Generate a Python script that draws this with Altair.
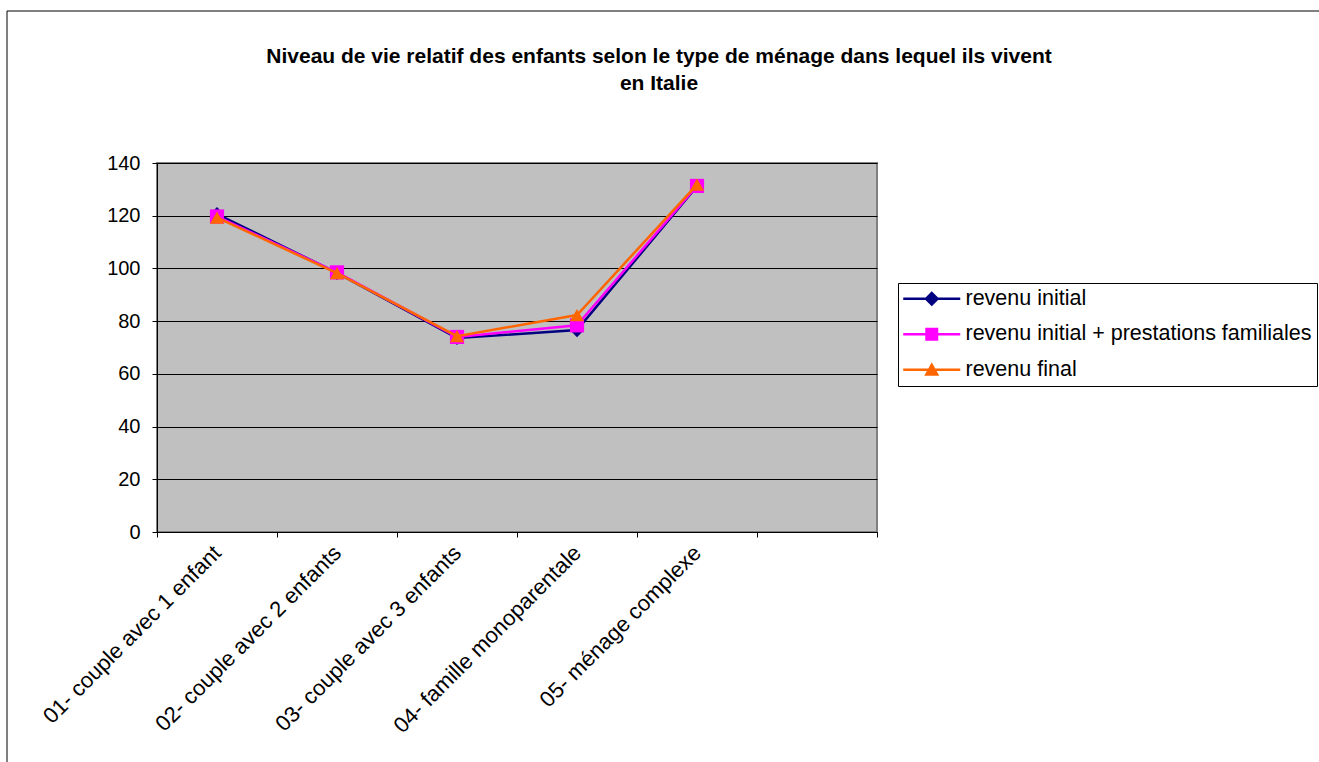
import altair as alt
import pandas as pd

# Household types (x categories); the last slot of the axis is left empty
categories = [
    "01- couple avec 1 enfant",
    "02- couple avec 2 enfants",
    "03- couple avec 3 enfants",
    "04- famille monoparentale",
    "05- ménage complexe",
]
x_domain = categories + [" "]

series_names = [
    "revenu initial",
    "revenu initial + prestations familiales",
    "revenu final",
]
revenu_initial = [120.6, 98.3, 73.6, 76.6, 131.2]
revenu_prestations = [119.7, 98.5, 74.0, 78.4, 131.3]
revenu_final = [119.3, 98.2, 74.3, 82.3, 131.8]

series_colors = ["#000080", "#FF00FF", "#FF6600"]
series_shapes = ["diamond", "square", "triangle-up"]

y_ticks = [0, 20, 40, 60, 80, 100, 120, 140]

rows = []
for name, values in zip(series_names, [revenu_initial, revenu_prestations, revenu_final]):
    for cat, v in zip(categories, values):
        rows.append({"type": cat, "serie": name, "valeur": v})
df = pd.DataFrame(rows)

# Legend glyphs: a short line with the series marker on it (unit-box SVG paths)
legend_paths = [
    "M-2.85,-0.12H2.85V0.12H-2.85Z M0,-0.75L0.75,0L0,0.75L-0.75,0Z",
    "M-2.85,-0.12H2.85V0.12H-2.85Z M-0.65,-0.65H0.65V0.65H-0.65Z",
    "M-2.85,-0.12H2.85V0.12H-2.85Z M0,-0.75L0.75,0.6H-0.75Z",
]

FONT = "Liberation Sans"

x = alt.X(
    "type:N",
    sort=x_domain,
    scale=alt.Scale(domain=x_domain, paddingInner=0, paddingOuter=0),
    axis=alt.Axis(
        title=None,
        labelAngle=-45,
        labelAlign="right",
        labelBaseline="middle",
        labelFontSize=22,
        labelFont=FONT,
        labelColor="black",
        labelPadding=12,
        tickBand="extent",
        tickSize=5,
        tickColor="black",
        domainColor="black",
        grid=False,
        labelLimit=1000,
    ),
)

y = alt.Y(
    "valeur:Q",
    scale=alt.Scale(domain=[0, 140], nice=False),
    axis=alt.Axis(
        title=None,
        values=y_ticks,
        labelFontSize=20,
        labelFont=FONT,
        labelColor="black",
        labelPadding=12,
        tickSize=5,
        tickColor="black",
        domainColor="black",
        grid=True,
        gridColor="black",
        gridWidth=1,
        gridOpacity=1,
    ),
)

base = alt.Chart(df)

# one line + marker layer per series, drawn in series order
series_layers = []
for name, col, shp in zip(series_names, series_colors, series_shapes):
    sub = base.transform_filter(alt.datum.serie == name)
    series_layers.append(sub.mark_line(strokeWidth=2.5, color=col).encode(x=x, y=y))
    series_layers.append(
        sub.mark_point(filled=True, size=200, opacity=1, strokeWidth=0, color=col, shape=shp).encode(x=x, y=y)
    )

# legend: built from the series scales, no marks of its own
legend = alt.Legend(
    title=None,
    orient="none",
    legendX=741,
    legendY=120,
    strokeColor="black",
    fillColor="white",
    padding=5,
    symbolSize=400,
    symbolOffset=18,
    labelOffset=23,
    labelFontSize=21.5,
    labelFont=FONT,
    labelColor="black",
    labelLimit=1000,
    rowPadding=12.5,
    symbolStrokeWidth=0,
    symbolOpacity=1,
)
legend_layer = base.transform_filter("false").mark_point(filled=True, opacity=1).encode(
    color=alt.Color(
        "serie:N",
        scale=alt.Scale(domain=series_names, range=series_colors),
        legend=legend,
    ),
    shape=alt.Shape(
        "serie:N",
        scale=alt.Scale(domain=series_names, range=legend_paths),
        legend=legend,
    ),
)

# outer frame around the whole chart
frame = alt.Chart(alt.Data(values=[{}])).mark_rect(
    fill="transparent", stroke="black", strokeWidth=1
).encode(
    x=alt.value(-150),
    x2=alt.value(1180),
    y=alt.value(-152),
    y2=alt.value(620),
)

chart = (
    alt.layer(frame, *series_layers, legend_layer)
    .properties(
        width=720,
        height=369,
        autosize=alt.AutoSizeParams(type="none"),
        padding={"left": 157, "top": 163, "right": 442, "bottom": 230},
        view=alt.ViewBackground(fill="#C0C0C0", stroke="#808080", strokeWidth=2),
        title=alt.TitleParams(
            text=[
                "Niveau de vie relatif des enfants selon le type de ménage dans lequel ils vivent",
                "en Italie",
            ],
            font=FONT,
            fontSize=21,
            fontWeight="bold",
            color="black",
            anchor="middle",
            frame="group",
            dx=142,
            # the frame rectangle reaches above the plot, so the offset is counted from its top edge
            offset=-83,
            lineHeight=27,
        ),
    )
    .configure_view(fill="#C0C0C0", stroke="#808080", strokeWidth=2)
    .configure(background="white")
)

chart.save("out.html", embed_options={"renderer": "svg", "actions": False})
